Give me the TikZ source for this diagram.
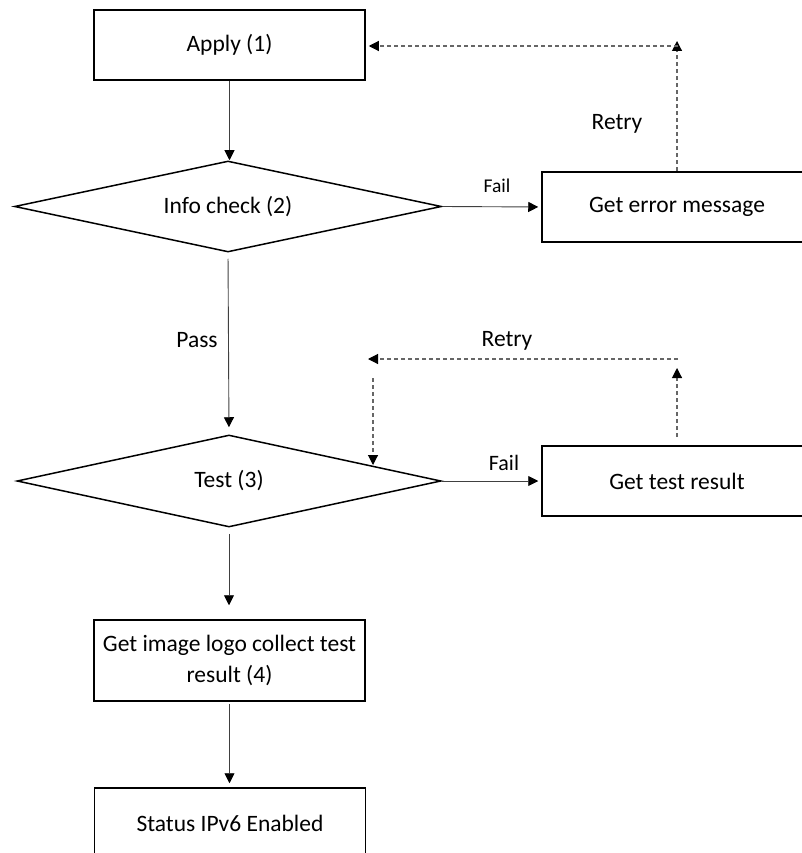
\documentclass[tikz,border=0pt]{standalone}
\usepackage{fontspec}
\setmainfont{Carlito}
\usetikzlibrary{shapes.geometric,arrows.meta}
\begin{document}
\begin{tikzpicture}[x=1pt,y=-1pt,
  box/.style={draw=black,line width=1.5pt,rectangle,minimum width=271pt,minimum height=70pt,inner sep=0pt,align=center,font=\fontsize{23.5}{31}\selectfont},
  dia/.style={draw=black,line width=1.5pt,diamond,aspect=4.7,inner sep=0pt,font=\fontsize{23.5}{31}\selectfont},
  flow/.style={draw=black!75,line width=0.9pt,-{Triangle[length=10pt,width=10pt,fill=black,color=black]}},
  retry/.style={draw=black!60,line width=1.1pt,dash pattern=on 4pt off 3pt,-{Triangle[length=10pt,width=10pt,fill=black,color=black]}},
  lbl/.style={inner sep=0pt,font=\fontsize{23.5}{28}\selectfont}]
\useasboundingbox (0,0) rectangle (802,853);
\clip (0,0) rectangle (802,853);
% nodes
\node[box] (apply) at (229.5,45) {Apply (1)};
\node[dia,minimum width=427pt,minimum height=91pt] (info) at (228,206.5) {Info check (2)};
\node[box,minimum width=270pt] (err) at (677,207) {Get error message};
\node[dia,minimum width=424pt,minimum height=92pt] (test) at (229,481) {Test (3)};
\node[box,minimum width=270pt] (res) at (677,481) {Get test result};
\node[box,minimum height=81pt] (img) at (229.5,660.5) {Get image logo collect test\\result (4)};
\node[box] (stat) at (230,823) {Status IPv6 Enabled};
% helper coordinates
\coordinate (r1top) at (677,41);
\coordinate (r1h) at (678,46);
\coordinate (r2base) at (677,437);
\coordinate (r2top) at (677,368);
\coordinate (r2h) at (678,359);
\coordinate (r2hend) at (368,359);
\coordinate (r2v) at (373,378);
\coordinate (r2vend) at (373,465);
% main flow
\draw[flow] (apply.south) -- (apply.south |- info.north);
\draw[flow,shorten <=6pt,shorten >=7pt] (info.south) -- (test.north);
\draw[flow,shorten <=6pt,shorten >=14pt] (test.south) -- (test.south |- img.north);
\draw[flow,shorten <=2pt,shorten >=4pt] (img.south) -- (img.south |- stat.north);
\draw[flow,shorten >=3pt] (info.east) -- (err.west);
\draw[flow,shorten >=3pt] (test.east) -- (res.west);
% retry loops
\draw[retry] (err.north) -- (r1top);
\draw[retry,shorten >=3pt] (r1h) -- (r1h -| apply.east);
\draw[retry] (r2base) -- (r2top);
\draw[retry] (r2h) -- (r2hend);
\draw[retry] (r2v) -- (r2vend);
% labels
\node[lbl,font=\fontsize{19.5}{24}\selectfont] (fail1) at (497,186) {Fail};
\node[lbl] (retry1) at (617,124) {Retry};
\node[lbl] (pass) at (197,340) {Pass};
\node[lbl] (retry2) at (507,341) {Retry};
\node[lbl,font=\fontsize{22}{26}\selectfont] (fail2) at (504,463) {Fail};
\end{tikzpicture}
\end{document}
